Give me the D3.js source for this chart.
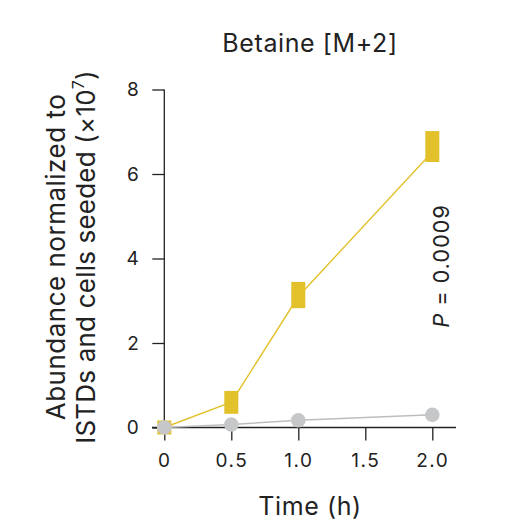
<!DOCTYPE html>
<html>
<head>
<meta charset="utf-8">
<script src="https://d3js.org/d3.v7.min.js"></script>
<style>
body{margin:0;background:#fff;}
text{font-family:Inter,"Noto Sans",sans-serif;fill:#222;}
</style>
</head>
<body>
<div id="chart"></div>
<script>
// 시간(h)별 측정값
var times = [0, 0.5, 1.0, 2.0];
var xTicks = [0, 0.5, 1.0, 1.5, 2.0];
var xTickLabels = ["0", "0.5", "1.0", "1.5", "2.0"];
var yTicks = [0, 2, 4, 6, 8];

// 노란 계열 (평균, 최소, 최대)
var yellowMean = [0.0, 0.60, 3.10, 6.52];
var yellowLow  = [0.0, 0.49, 2.99, 6.45];
var yellowHigh = [0.0, 0.70, 3.28, 6.85];

// 회색 계열
var grayMean = [0.0, 0.07, 0.17, 0.30];

var W = 528, H = 532;
var yellow = "#e2c12b", grayFill = "#c6c7c9", grayLine = "#bdbdbd";

var svg = d3.select("#chart").append("svg")
	.attr("width", W)
	.attr("height", H);

var x = d3.scaleLinear().domain([0, 2]).range([164.3, 432.3]);
var y = d3.scaleLinear().domain([0, 8]).range([427.5, 89.5]);

/** 축 **/
var xAxis = svg.append("g")
	.attr("transform", "translate(0," + y(0) + ")")
	.call(d3.axisBottom(x).tickValues(xTicks)
		.tickFormat(function(d, i){ return xTickLabels[i]; })
		.tickSize(13).tickPadding(13));
xAxis.select(".domain").remove();
xAxis.append("line")
	.attr("x1", 152).attr("x2", 456)
	.attr("stroke", "#222").attr("stroke-width", 1.3);

var yAxis = svg.append("g")
	.attr("transform", "translate(" + x(0) + ",0)")
	.call(d3.axisLeft(y).tickValues(yTicks).tickSize(12).tickPadding(12));
yAxis.select(".domain").remove();
yAxis.append("line")
	.attr("y1", y(8)).attr("y2", y(0))
	.attr("stroke", "#222").attr("stroke-width", 1.3);

svg.selectAll(".tick line").attr("stroke", "#222").attr("stroke-width", 1.3);
svg.selectAll(".tick text")
	.style("font-family", "Inter, 'Noto Sans', sans-serif")
	.style("letter-spacing", "1.5px")
	.attr("font-size", "19px")
	.attr("fill", "#222");

/** 선 **/
var line = d3.line()
	.x(function(d){ return x(d[0]); })
	.y(function(d){ return y(d[1]); });

svg.append("path")
	.datum(times.map(function(t, i){ return [t, yellowMean[i]]; }))
	.attr("d", line)
	.attr("fill", "none")
	.attr("stroke", yellow)
	.attr("stroke-width", 1.4);

var half = 7;
svg.selectAll(".ybar")
	.data(times)
	.enter().append("rect")
	.attr("class", "ybar")
	.attr("x", function(d){ return x(d) - half; })
	.attr("y", function(d, i){ return y(yellowHigh[i]) - half; })
	.attr("width", half * 2)
	.attr("height", function(d, i){ return y(yellowLow[i]) - y(yellowHigh[i]) + half * 2; })
	.attr("fill", yellow);

svg.append("path")
	.datum(times.map(function(t, i){ return [t, grayMean[i]]; }))
	.attr("d", line)
	.attr("fill", "none")
	.attr("stroke", grayLine)
	.attr("stroke-width", 1.5);

svg.selectAll(".gdot")
	.data(times)
	.enter().append("circle")
	.attr("class", "gdot")
	.attr("cx", function(d){ return x(d); })
	.attr("cy", function(d, i){ return y(grayMean[i]); })
	.attr("r", 7.3)
	.attr("fill", grayFill);

/** 텍스트 **/
svg.append("text")
	.attr("x", 310).attr("y", 52)
	.attr("text-anchor", "middle")
	.attr("font-size", "25px")
	.style("letter-spacing", "0.6px")
	.text("Betaine [M+2]");

svg.append("text")
	.attr("x", 310).attr("y", 515)
	.attr("text-anchor", "middle")
	.attr("font-size", "25px")
	.style("letter-spacing", "0.6px")
	.text("Time (h)");

var yl = svg.append("g")
	.attr("transform", "translate(0,257) rotate(-90)");
yl.append("text")
	.attr("x", 0).attr("y", 65)
	.attr("text-anchor", "middle")
	.attr("font-size", "26px")
	.style("letter-spacing", "0.5px")
	.text("Abundance normalized to");
var yl2 = yl.append("text")
	.attr("x", 0).attr("y", 95)
	.attr("text-anchor", "middle")
	.attr("font-size", "26px")
	.style("letter-spacing", "0.2px");
yl2.append("tspan").text("ISTDs and cells seeded (×10");
yl2.append("tspan").attr("font-size", "16px").attr("dy", -11).text("7");
yl2.append("tspan").attr("dy", 11).text(")");

var pt = svg.append("text")
	.attr("transform", "translate(449,266) rotate(-90)")
	.attr("text-anchor", "middle")
	.attr("font-size", "22px")
	.style("letter-spacing", "0.8px");
pt.append("tspan").attr("font-style", "italic").text("P");
pt.append("tspan").text(" = 0.0009");
</script>
</body>
</html>
